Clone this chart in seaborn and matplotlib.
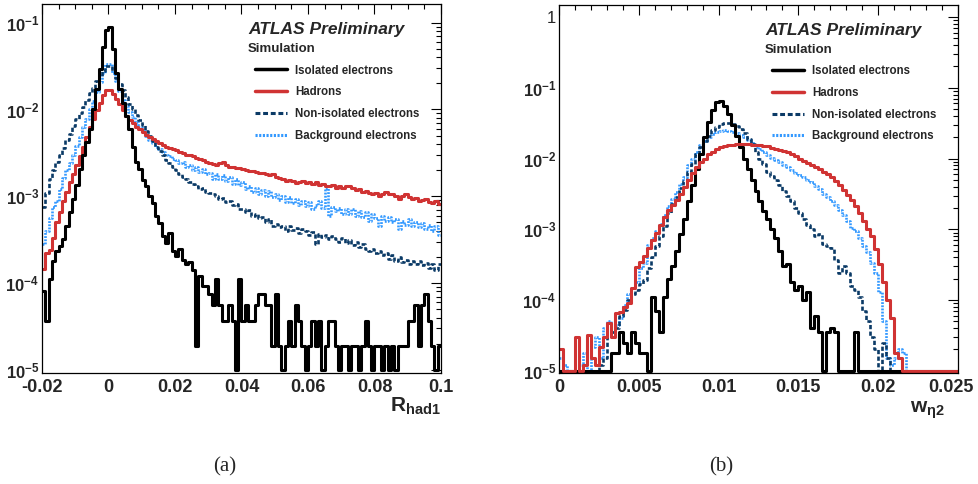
import numpy as np
import matplotlib
matplotlib.use("Agg")
import matplotlib.pyplot as plt
import matplotlib.transforms as mtransforms
from matplotlib.lines import Line2D
from matplotlib.ticker import MultipleLocator, LogLocator, FuncFormatter, NullFormatter
import seaborn as sns

# ---- panel (a): R_had1, bins of 0.001 from -0.02 to 0.1
edges_a = np.linspace(-0.02, 0.1, 121)

iso_a = [8.0e-5, 3.7e-5, 1.1e-4, 1.8e-4, 2.35e-4, 2.7e-4, 3.2e-4, 4.6e-4, 6.5e-4, 9.3e-4,
         1.35e-3, 2.05e-3, 2.95e-3, 4.2e-3, 6.0e-3, 1.0e-2, 1.74e-2, 2.95e-2, 5.2e-2, 8.2e-2,
         8.8e-2, 5.0e-2, 2.6e-2, 1.7e-2, 1.2e-2, 8.3e-3, 5.9e-3, 3.7e-3, 2.45e-3, 2.05e-3,
         1.55e-3, 1.3e-3, 1.0e-3, 8.3e-4, 5.9e-4, 4.9e-4, 3.5e-4, 2.9e-4, 3.8e-4, 2.35e-4,
         2.05e-4, 2.5e-4, 1.86e-4, 1.65e-4, 1.75e-4, 1.4e-4, 1.9e-5, 1.2e-4, 9.3e-5, 9.3e-5,
         7.4e-5, 5.6e-5, 1.1e-4, 5.6e-5, 3.7e-5, 3.7e-5, 5.6e-5, 3.7e-5, 0, 1.1e-4,
         3.7e-5, 5.6e-5, 3.7e-5, 3.7e-5, 5.6e-5, 7.4e-5, 7.4e-5, 5.6e-5, 5.6e-5, 1.9e-5,
         7.4e-5, 1.9e-5, 0, 1.9e-5, 3.7e-5, 1.9e-5, 5.6e-5, 3.7e-5, 1.9e-5, 0,
         1.9e-5, 3.7e-5, 1.9e-5, 3.7e-5, 0, 1.9e-5, 3.7e-5, 3.7e-5, 1.9e-5, 0,
         1.9e-5, 1.9e-5, 0, 1.9e-5, 1.9e-5, 0, 1.9e-5, 3.7e-5, 1.9e-5, 0,
         1.9e-5, 1.9e-5, 0, 1.9e-5, 0, 1.9e-5, 0, 1.9e-5, 1.9e-5, 1.9e-5,
         3.7e-5, 3.7e-5, 5.6e-5, 1.9e-5, 5.6e-5, 7.4e-5, 3.7e-5, 1.9e-5, 0, 1.9e-5]

had_a = [1.45e-4, 2.2e-4, 2.4e-4, 3.3e-4, 5.0e-4, 6.6e-4, 8.9e-4, 1.12e-3, 1.45e-3, 1.8e-3,
         2.3e-3, 2.9e-3, 3.7e-3, 4.8e-3, 6.2e-3, 7.8e-3, 9.8e-3, 1.2e-2, 1.45e-2, 1.66e-2,
         1.66e-2, 1.5e-2, 1.32e-2, 1.15e-2, 9.8e-3, 8.5e-3, 7.6e-3, 6.9e-3, 6.3e-3, 5.9e-3,
         5.5e-3, 5.1e-3, 4.8e-3, 4.6e-3, 4.3e-3, 4.1e-3, 3.9e-3, 3.7e-3, 3.6e-3, 3.5e-3,
         3.4e-3, 3.25e-3, 3.15e-3, 3.0e-3, 2.95e-3, 2.9e-3, 2.75e-3, 2.7e-3, 2.6e-3, 2.5e-3,
         2.4e-3, 2.35e-3, 2.3e-3, 2.4e-3, 2.45e-3, 2.3e-3, 2.2e-3, 2.15e-3, 2.1e-3, 2.1e-3,
         2.05e-3, 2.0e-3, 1.95e-3, 1.95e-3, 1.9e-3, 1.85e-3, 1.85e-3, 1.8e-3, 1.75e-3, 1.8e-3,
         1.65e-3, 1.62e-3, 1.58e-3, 1.5e-3, 1.55e-3, 1.48e-3, 1.42e-3, 1.45e-3, 1.5e-3, 1.42e-3,
         1.45e-3, 1.38e-3, 1.45e-3, 1.35e-3, 1.38e-3, 1.32e-3, 1.3e-3, 1.35e-3, 1.26e-3, 1.3e-3,
         1.23e-3, 1.3e-3, 1.32e-3, 1.23e-3, 1.17e-3, 1.2e-3, 1.12e-3, 1.15e-3, 1.1e-3, 1.05e-3,
         1.1e-3, 1.02e-3, 1.07e-3, 1.12e-3, 1.05e-3, 1.07e-3, 1.0e-3, 9.3e-4, 1.0e-3, 1.05e-3,
         9.8e-4, 9.3e-4, 9.5e-4, 8.9e-4, 9.1e-4, 9.3e-4, 8.7e-4, 8.3e-4, 8.9e-4, 8.1e-4]

noniso_a = [7.6e-4, 1.1e-3, 1.6e-3, 2.0e-3, 2.5e-3, 2.95e-3, 3.6e-3, 4.4e-3, 5.2e-3, 6.5e-3,
            7.8e-3, 9.1e-3, 1.07e-2, 1.29e-2, 1.55e-2, 1.78e-2, 2.1e-2, 2.45e-2, 2.8e-2, 3.15e-2,
            3.15e-2, 2.75e-2, 2.3e-2, 1.95e-2, 1.66e-2, 1.38e-2, 1.17e-2, 1.0e-2, 8.7e-3, 7.6e-3,
            6.6e-3, 5.6e-3, 4.9e-3, 4.3e-3, 3.7e-3, 3.3e-3, 2.95e-3, 2.6e-3, 2.4e-3, 2.15e-3,
            2.0e-3, 1.8e-3, 1.65e-3, 1.6e-3, 1.45e-3, 1.38e-3, 1.3e-3, 1.2e-3, 1.26e-3, 1.12e-3,
            1.1e-3, 1.05e-3, 1.02e-3, 9.3e-4, 9.5e-4, 8.5e-4, 8.9e-4, 7.9e-4, 8.1e-4, 7.2e-4,
            7.1e-4, 6.6e-4, 6.9e-4, 6.0e-4, 6.3e-4, 5.6e-4, 5.75e-4, 5.0e-4, 5.4e-4, 4.6e-4,
            4.8e-4, 4.4e-4, 4.5e-4, 4.0e-4, 4.5e-4, 4.1e-4, 4.3e-4, 3.8e-4, 4.2e-4, 4.0e-4,
            3.6e-4, 3.9e-4, 2.8e-4, 3.7e-4, 3.4e-4, 3.55e-4, 3.2e-4, 3.45e-4, 3.2e-4, 3.0e-4,
            3.3e-4, 2.9e-4, 3.1e-4, 2.75e-4, 2.95e-4, 2.6e-4, 2.8e-4, 2.5e-4, 2.35e-4, 2.5e-4,
            2.2e-4, 2.35e-4, 2.1e-4, 2.2e-4, 1.9e-4, 2.1e-4, 1.8e-4, 2.0e-4, 1.75e-4, 1.85e-4,
            1.65e-4, 1.8e-4, 1.65e-4, 1.8e-4, 1.6e-4, 1.7e-4, 1.5e-4, 1.65e-4, 1.4e-4, 1.65e-4]

bkg_a = [2.8e-4, 4.0e-4, 5.6e-4, 7.6e-4, 8.9e-4, 1.2e-3, 1.62e-3, 2.0e-3, 2.4e-3, 3.0e-3,
         3.8e-3, 4.8e-3, 6.2e-3, 7.8e-3, 1.0e-2, 1.26e-2, 1.58e-2, 2.05e-2, 2.6e-2, 3.3e-2,
         3.3e-2, 2.6e-2, 2.1e-2, 1.62e-2, 1.29e-2, 1.1e-2, 9.3e-3, 8.1e-3, 7.1e-3, 6.3e-3,
         5.6e-3, 5.0e-3, 4.5e-3, 4.1e-3, 3.7e-3, 3.5e-3, 3.2e-3, 3.0e-3, 2.9e-3, 2.7e-3,
         2.6e-3, 2.4e-3, 2.5e-3, 2.2e-3, 2.3e-3, 2.0e-3, 2.15e-3, 1.9e-3, 2.05e-3, 1.8e-3,
         1.85e-3, 1.6e-3, 1.8e-3, 1.6e-3, 1.75e-3, 1.5e-3, 1.65e-3, 1.4e-3, 1.6e-3, 1.35e-3,
         1.45e-3, 1.2e-3, 1.3e-3, 1.12e-3, 1.26e-3, 1.07e-3, 1.17e-3, 1.0e-3, 1.15e-3, 9.8e-4,
         1.07e-3, 9.1e-4, 1.02e-3, 8.7e-4, 9.8e-4, 8.3e-4, 9.3e-4, 7.9e-4, 8.9e-4, 7.8e-4,
         8.7e-4, 7.2e-4, 7.9e-4, 8.9e-4, 7.4e-4, 1.26e-3, 6.0e-4, 7.6e-4, 6.8e-4, 7.4e-4,
         6.3e-4, 7.2e-4, 6.2e-4, 7.1e-4, 6.0e-4, 6.8e-4, 5.75e-4, 6.6e-4, 5.2e-4, 6.3e-4,
         5.6e-4, 4.5e-4, 6.0e-4, 5.2e-4, 5.75e-4, 5.0e-4, 5.5e-4, 4.2e-4, 5.2e-4, 4.7e-4,
         5.4e-4, 4.6e-4, 5.0e-4, 4.4e-4, 4.9e-4, 4.2e-4, 4.7e-4, 4.0e-4, 4.6e-4, 3.55e-4]

# ---- panel (b): w_eta2, bins of 0.00025 from 0 to 0.025
edges_b = np.linspace(0.0, 0.025, 101)

iso_b = [0] * 13 + [1.8e-5, 1.8e-5, 3.5e-5, 2.5e-5, 1.8e-5, 3.5e-5, 2.5e-5, 1.8e-5, 1.8e-5, 0,
         1.1e-4, 7e-5, 3.5e-5, 1.1e-4, 2.0e-4, 3.0e-4, 5.0e-4, 8.5e-4, 1.4e-3, 2.5e-3,
         4.2e-3, 7.2e-3, 1.15e-2, 2.0e-2, 3.3e-2, 4.8e-2, 6.2e-2, 6.6e-2, 5.6e-2, 4.2e-2,
         3.0e-2, 2.1e-2, 1.45e-2, 1.0e-2, 7.0e-3, 5.0e-3, 3.5e-3, 2.5e-3, 1.8e-3, 1.4e-3,
         1.0e-3, 7.5e-4, 5.0e-4, 3.0e-4, 3.2e-4, 1.8e-4, 1.4e-4, 1.6e-4, 1.0e-4, 1.3e-4,
         4e-5, 6e-5, 3.5e-5, 0, 3.5e-5, 4e-5, 3.5e-5, 0, 0, 0,
         0, 3.5e-5] + [0] * 25

had_b = [2e-5, 0, 0, 0, 3e-5, 0, 1.2e-5, 3.2e-5, 1.5e-5, 1.2e-5,
         2.2e-5, 3.0e-5, 4.7e-5, 3.0e-5, 6.5e-5, 6.8e-5, 8e-5, 9e-5, 1.5e-4, 2.9e-4,
         3.5e-4, 4.2e-4, 5.5e-4, 7.0e-4, 9.0e-4, 1.15e-3, 1.5e-3, 1.85e-3, 2.2e-3, 2.6e-3,
         3.2e-3, 4.0e-3, 5.0e-3, 6.2e-3, 7.6e-3, 9.0e-3, 1.0e-2, 1.15e-2, 1.25e-2, 1.38e-2,
         1.45e-2, 1.5e-2, 1.55e-2, 1.57e-2, 1.6e-2, 1.6e-2, 1.6e-2, 1.6e-2, 1.57e-2, 1.55e-2,
         1.53e-2, 1.5e-2, 1.48e-2, 1.42e-2, 1.38e-2, 1.34e-2, 1.28e-2, 1.22e-2, 1.15e-2, 1.08e-2,
         1.0e-2, 9.2e-3, 8.6e-3, 8.0e-3, 7.5e-3, 7.0e-3, 6.5e-3, 6.0e-3, 5.4e-3, 4.8e-3,
         4.2e-3, 3.6e-3, 3.1e-3, 2.6e-3, 2.1e-3, 1.7e-3, 1.3e-3, 1.0e-3, 8.0e-4, 5.2e-4,
         3.2e-4, 1.8e-4, 1.0e-4, 5.5e-5, 1.8e-5, 1.5e-5] + [0] * 14

noniso_b = [0] * 10 + [1.2e-5, 1.5e-5, 3.0e-5, 3.5e-5, 4.0e-5, 6.0e-5, 7.2e-5, 1.0e-4, 1.2e-4, 1.4e-4,
            1.7e-4, 1.9e-4, 2.8e-4, 4.0e-4, 5.8e-4, 8.0e-4, 1.1e-3, 1.7e-3, 2.3e-3, 2.9e-3,
            3.8e-3, 4.8e-3, 6.5e-3, 8.5e-3, 1.15e-2, 1.45e-2, 1.75e-2, 2.1e-2, 2.5e-2, 2.8e-2,
            3.05e-2, 3.2e-2, 3.2e-2, 3.1e-2, 2.85e-2, 2.6e-2, 2.3e-2, 1.9e-2, 1.6e-2, 1.25e-2,
            1.0e-2, 8.5e-3, 6.5e-3, 5.6e-3, 5.0e-3, 4.2e-3, 3.5e-3, 3.0e-3, 2.5e-3, 2.0e-3,
            1.7e-3, 1.4e-3, 1.15e-3, 1.0e-3, 8.0e-4, 8.5e-4, 6.2e-4, 5.8e-4, 5.5e-4, 3.7e-4,
            2.4e-4, 3.0e-4, 2.4e-4, 1.6e-4, 1.4e-4, 1.1e-4, 7.0e-5, 5.0e-5, 3.0e-5, 2.0e-5,
            0, 2.5e-5, 1.5e-5] + [0] * 17

bkg_b = [1.5e-5, 1.2e-5, 0, 0, 0, 1.2e-5, 1.8e-5, 0, 2.2e-5, 3.0e-5,
         1.5e-5, 4.0e-5, 5.0e-5, 3.5e-5, 4.5e-5, 5.5e-5, 8.5e-5, 1.2e-4, 1.5e-4, 1.8e-4,
         2.8e-4, 3.3e-4, 6.0e-4, 7.5e-4, 9.5e-4, 1.2e-3, 1.6e-3, 2.1e-3, 2.7e-3, 3.4e-3,
         4.3e-3, 5.5e-3, 8.0e-3, 1.0e-2, 1.25e-2, 1.55e-2, 1.75e-2, 2.0e-2, 2.2e-2, 2.35e-2,
         2.45e-2, 2.5e-2, 2.45e-2, 2.35e-2, 2.3e-2, 2.15e-2, 2.0e-2, 1.8e-2, 1.65e-2, 1.5e-2,
         1.35e-2, 1.22e-2, 1.12e-2, 1.02e-2, 9.5e-3, 8.8e-3, 8.0e-3, 7.5e-3, 6.8e-3, 6.2e-3,
         5.8e-3, 5.5e-3, 5.0e-3, 4.6e-3, 4.1e-3, 3.7e-3, 3.2e-3, 2.9e-3, 2.5e-3, 2.2e-3,
         1.85e-3, 1.6e-3, 1.3e-3, 1.05e-3, 9.5e-4, 7.5e-4, 5.8e-4, 4.8e-4, 3.3e-4, 2.4e-4,
         1.3e-4, 5.0e-5, 1.5e-5, 1.2e-5, 1.5e-5, 2.0e-5, 1.8e-5] + [0] * 13

labels = ["Isolated electrons", "Hadrons", "Non-isolated electrons", "Background electrons"]
colors = ["black", "#d03333", "#0b3a66", "#3399ff"]
styles = ["-", "-", (0, (1.6, 0.9)), (0, (0.7, 0.5))]
widths = [2.2, 2.2, 1.9, 1.9]

sns.set_theme(style="white")
plt.rcParams["font.family"] = ["Liberation Sans", "DejaVu Sans"]
plt.rcParams["mathtext.fontset"] = "custom"
plt.rcParams["mathtext.rm"] = "Liberation Sans:bold"
plt.rcParams["mathtext.bf"] = "Liberation Sans:bold"
plt.rcParams["mathtext.it"] = "Liberation Sans:bold"
plt.rcParams["mathtext.sf"] = "Liberation Sans:bold"

fig = plt.figure(figsize=(9.79, 4.84), dpi=100)
ax_a = fig.add_axes([42 / 979, 1 - 373 / 484, 399 / 979, 369 / 484])
ax_b = fig.add_axes([559 / 979, 1 - 373 / 484, 399 / 979, 368 / 484])

FLOOR = 1.0e-5  # empty bins are drawn along the bottom, like ROOT does


def log_label(v, pos):
    e = int(round(np.log10(v)))
    if e == 0:
        return "1"
    return r"$10^{%d}$" % e


def draw_panel(ax, edges, series, order, ylo, yhi, xmaj, xmin_step, xfmt):
    centers = 0.5 * (edges[:-1] + edges[1:])
    for k in order:
        vals = np.clip(np.array(series[k], dtype=float), FLOOR, None)
        sns.histplot(x=centers, weights=vals, bins=list(edges), element="step", fill=False,
                     color=colors[k], linewidth=widths[k], linestyle=styles[k], ax=ax)
    ax.set_yscale("log")
    ax.set_xlim(edges[0], edges[-1])
    ax.set_ylim(ylo, yhi)
    ax.set_xlabel("")
    ax.set_ylabel("")
    ax.xaxis.set_major_locator(MultipleLocator(xmaj))
    ax.xaxis.set_minor_locator(MultipleLocator(xmin_step))
    ax.xaxis.set_major_formatter(FuncFormatter(xfmt))
    ax.yaxis.set_major_locator(LogLocator(base=10, numticks=20))
    ax.yaxis.set_minor_locator(LogLocator(base=10, subs=np.arange(2, 10), numticks=20))
    ax.yaxis.set_major_formatter(FuncFormatter(log_label))
    ax.yaxis.set_minor_formatter(NullFormatter())
    ax.tick_params(which="both", direction="in", top=True, right=True, color="black", width=0.8)
    ax.tick_params(which="major", length=7)
    ax.tick_params(which="minor", length=3.5)
    ax.tick_params(axis="x", labelsize=13, pad=4)
    ax.tick_params(axis="y", labelsize=12, pad=2)
    for lab in ax.get_xticklabels():
        lab.set_fontweight("bold")
    for s in ax.spines.values():
        s.set_color("black")
        s.set_linewidth(0.9)

    ax.text(0.516, 0.93, "ATLAS Preliminary", transform=ax.transAxes, fontsize=12.5,
            fontweight="bold", fontstyle="italic", va="center", ha="left")
    ax.text(0.516, 0.878, "Simulation", transform=ax.transAxes, fontsize=9.5,
            fontweight="bold", va="center", ha="left")
    handles = [Line2D([0], [0], color=colors[k], lw=widths[k] + 0.3, linestyle=styles[k])
               for k in range(4)]
    ax.legend(handles, labels, loc="upper left", bbox_to_anchor=(0.534, 0.836),
              frameon=False, prop={"size": 8.3, "weight": "bold"}, borderpad=0,
              borderaxespad=0, handlelength=2.8, handletextpad=0.7, labelspacing=0.84)


def fmt_a(v, pos):
    if abs(v) < 1e-9:
        return "0"
    return "%g" % round(v, 3)


def fmt_b(v, pos):
    if abs(v) < 1e-9:
        return "0"
    return "%g" % round(v, 4)


draw_panel(ax_a, edges_a, [iso_a, had_a, noniso_a, bkg_a], [3, 2, 1, 0],
           9.2e-6, 0.164, 0.02, 0.005, fmt_a)
draw_panel(ax_b, edges_b, [iso_b, had_b, noniso_b, bkg_b], [3, 2, 0, 1],
           9.3e-6, 1.48, 0.005, 0.001, fmt_b)

# keep the last tick label of panel (b) inside the figure
fig.canvas.draw()
shift = mtransforms.ScaledTranslation(-7 / 100, 0, fig.dpi_scale_trans)
for lab in ax_b.get_xticklabels():
    if lab.get_text() == "0.025":
        lab.set_transform(lab.get_transform() + shift)

fig.text(441 / 979, 1 - 406 / 484, r"$\mathrm{R}_{\mathrm{had1}}$", fontsize=15,
         ha="right", va="center")
fig.text(945 / 979, 1 - 410 / 484, r"$\mathrm{w}_{\eta\mathrm{2}}$", fontsize=15,
         ha="right", va="center")
fig.text(225 / 979, 1 - 467 / 484, "(a)", fontsize=15, family="Liberation Serif",
         ha="center", va="center")
fig.text(721 / 979, 1 - 467 / 484, "(b)", fontsize=15, family="Liberation Serif",
         ha="center", va="center")

fig.savefig("out.png", dpi=100, facecolor="white")
